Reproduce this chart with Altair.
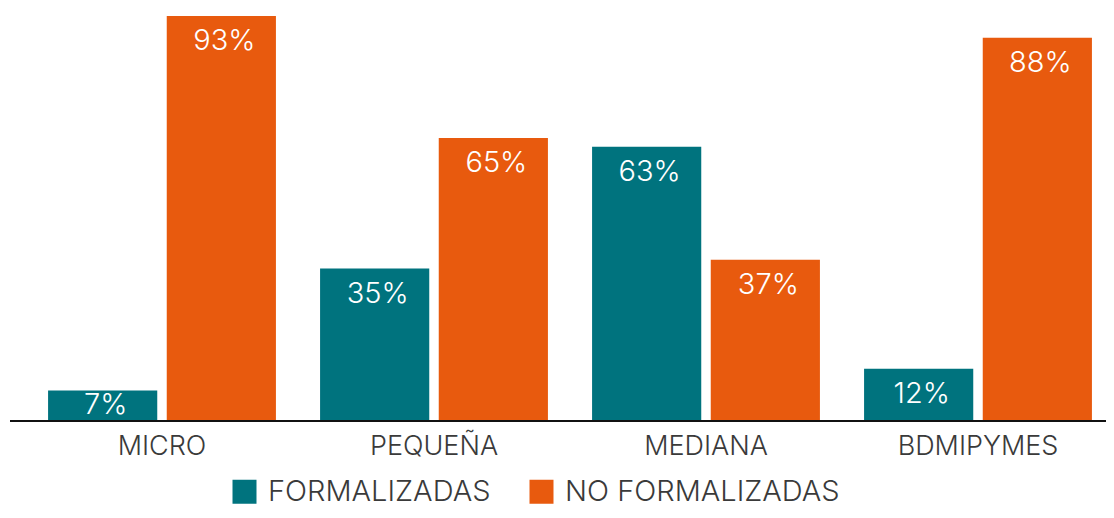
import altair as alt
import pandas as pd

categorias = ["MICRO", "PEQUEÑA", "MEDIANA", "BDMIPYMES"]
series = ["FORMALIZADAS", "NO FORMALIZADAS"]
formalizadas = [7, 35, 63, 12]
no_formalizadas = [93, 65, 37, 88]
colores = ["#00737E", "#E85A0E"]

rows = []
for i, c in enumerate(categorias):
    rows.append({"grupo": c, "serie": series[0], "valor": formalizadas[i]})
    rows.append({"grupo": c, "serie": series[1], "valor": no_formalizadas[i]})
df = pd.DataFrame(rows)
df["etiqueta"] = df["valor"].astype(str) + "%"

FONT = "Inter"
GRIS = "#3a3a3a"

x_enc = alt.X(
    "grupo:N",
    sort=categorias,
    title=None,
    scale=alt.Scale(range=[16, 1104], paddingInner=0, paddingOuter=0),
    axis=alt.Axis(
        labelAngle=0,
        labelFontSize=27,
        labelFont=FONT,
        labelFontWeight=300,
        labelColor=GRIS,
        labelPadding=12,
        ticks=False,
        domain=False,
        grid=False,
    ),
)
xoff_enc = alt.XOffset(
    "serie:N",
    sort=series,
    scale=alt.Scale(paddingInner=0.08, paddingOuter=0.186),
)
y_scale = alt.Scale(domain=[0, 93], nice=False, zero=True)

bars = alt.Chart(df).mark_bar().encode(
    x=x_enc,
    xOffset=xoff_enc,
    y=alt.Y("valor:Q", scale=y_scale, axis=None),
    color=alt.Color(
        "serie:N",
        sort=series,
        scale=alt.Scale(domain=series, range=colores),
        legend=alt.Legend(
            title=None,
            orient="none",
            legendX=220,
            legendY=461,
            direction="horizontal",
            symbolType="square",
            symbolSize=576,
            symbolStrokeWidth=0,
            symbolOpacity=1,
            labelFontSize=29,
            labelFont=FONT,
            labelFontWeight=300,
            labelColor=GRIS,
            labelOffset=9,
            columnPadding=36,
            labelLimit=400,
        ),
    ),
)

text = (
    alt.Chart(df)
    .transform_calculate(pos="max(datum.valor, 9.4)")
    .mark_text(
        baseline="alphabetic",
        dy=34,
        dx=3,
        fontSize=29,
        font=FONT,
        fontWeight=300,
        color="white",
    )
    .encode(
        x=x_enc,
        xOffset=xoff_enc,
        y=alt.Y("pos:Q", scale=y_scale, axis=None),
        text="etiqueta:N",
    )
)

baseline_rule = alt.Chart(df).mark_rule(color="#111111", strokeWidth=2).encode(
    y=alt.datum(0)
)

chart = (
    alt.layer(bars, text, baseline_rule)
    .properties(
        width=1096,
        height=405,
        autosize=alt.AutoSizeParams(type="none"),
        padding={"left": 2, "top": 8, "right": 0, "bottom": 89},
    )
    .configure_view(stroke=None)
)

chart.save("out.html", embed_options={"renderer": "svg", "actions": False})
